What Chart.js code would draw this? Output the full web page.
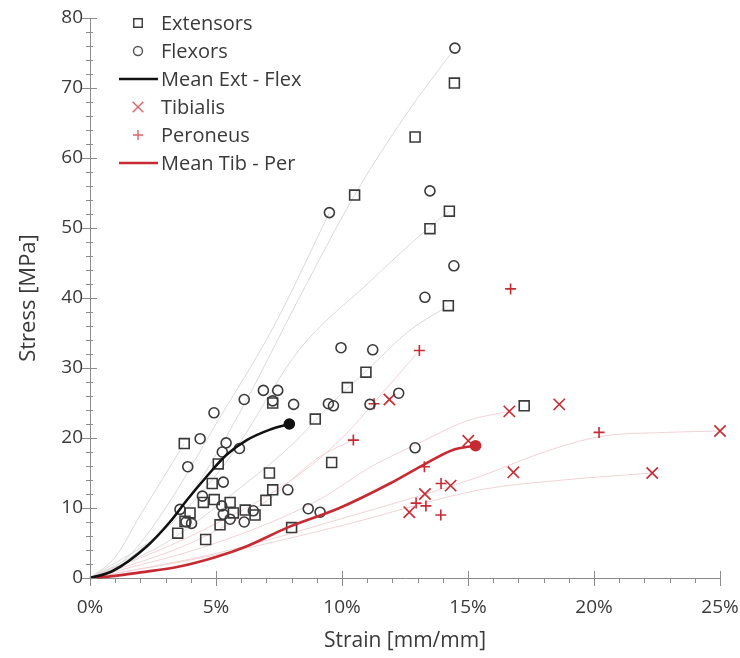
<!DOCTYPE html>
<html>
<head>
<meta charset="utf-8">
<script src="https://cdn.jsdelivr.net/npm/chart.js@4.4.0/dist/chart.umd.min.js"></script>
<style>
  html, body { margin: 0; background: #fff; }
  #wrap { width: 740px; height: 658px; }
</style>
</head>
<body>
<div id="wrap"><canvas id="chart" width="740" height="658"></canvas></div>
<script>
'use strict';

/* ── Data (strain in %, stress in MPa) ─────────────────────── */
const extensors = [
  [3.74, 19.2], [5.09, 16.3], [4.85, 13.5], [4.93, 11.2], [4.5, 10.8], [5.56, 10.8],
  [3.97, 9.3], [3.77, 8.1], [3.48, 6.4], [4.59, 5.5], [5.16, 7.6], [5.69, 9.3],
  [6.16, 9.7], [6.55, 9.0], [6.98, 11.1], [7.25, 12.6], [7.12, 15.0], [7.25, 25.0],
  [8.0, 7.2], [8.94, 22.7], [9.59, 16.5], [10.5, 54.7], [14.26, 52.4], [13.49, 49.9],
  [14.22, 38.9], [10.95, 29.4], [10.21, 27.2], [14.46, 70.7], [12.9, 63.0], [17.23, 24.6]
];
const flexors = [
  [4.92, 23.6], [6.12, 25.5], [6.88, 26.8], [7.45, 26.8], [7.25, 25.3], [8.08, 24.8],
  [4.37, 19.9], [5.4, 19.3], [5.25, 18.0], [5.93, 18.5], [3.88, 15.9], [5.29, 13.7],
  [4.46, 11.7], [3.57, 9.8], [3.81, 8.0], [4.03, 7.8], [5.23, 10.3], [5.29, 9.1],
  [5.56, 8.4], [6.12, 8.0], [6.48, 9.6], [7.85, 12.6], [8.66, 9.9], [9.13, 9.4],
  [9.5, 52.2], [13.49, 55.3], [14.44, 44.6], [13.29, 40.1], [9.96, 32.9], [11.22, 32.6],
  [12.25, 26.4], [11.11, 24.8], [9.46, 24.9], [9.66, 24.6], [14.48, 75.7], [12.9, 18.6]
];
const tibialis = [
  [11.88, 25.5], [16.64, 23.8], [18.62, 24.8], [15.01, 19.6], [14.31, 13.2],
  [16.8, 15.1], [13.29, 12.0], [12.67, 9.4], [25.0, 21.0], [22.31, 15.0]
];
const peroneus = [
  [13.07, 32.5], [11.27, 24.9], [10.45, 19.7], [13.27, 15.9], [13.93, 13.5],
  [12.94, 10.7], [13.33, 10.3], [13.92, 9.0], [16.69, 41.3], [20.2, 20.8]
];
const meanExtFlex = [
  [0, 0], [0.9, 1.0], [2.25, 4.5], [3.17, 8.0], [3.84, 11.1], [4.63, 14.5],
  [5.42, 17.6], [6.22, 19.7], [7.14, 21.2], [7.91, 22.0]
];
const meanTibPer = [
  [0, 0], [1, 0.3], [2, 0.8], [3.5, 1.6], [5, 3.0], [6.2, 4.5], [7.9, 7.3],
  [9.9, 10.0], [11.9, 13.5], [13.2, 16.1], [14.4, 18.3], [15.3, 18.9]
];
// faint individual specimen curves
const specimenGrey = [
  [[0, 0], [1, 3], [2, 9], [3.74, 19.2]],
  [[0, 0], [1.5, 3], [3, 10], [5, 22], [7.3, 36], [9.5, 52.2]],
  [[0, 0], [2, 4], [4, 12], [6, 24], [8.3, 40], [10.5, 54.7], [12.5, 66], [14.48, 75.7]],
  [[0, 0], [3, 7], [5.5, 17], [8.3, 32.6], [11, 42], [13.5, 50.2], [14.26, 52.4]],
  [[0, 0], [3, 5], [6, 13], [8, 19], [9.6, 25], [11, 29.7], [12.7, 35.4], [14.22, 38.9]]
];
const specimenPink = [
  [[0, 0], [4, 6], [8, 14], [10, 20], [11.5, 26], [13.07, 32.5]],
  [[0, 0], [5, 5], [9, 11], [11.2, 16], [12.9, 19], [15, 22.5], [16.64, 23.8]],
  [[0, 0], [4, 5], [7, 11], [9.1, 17.3], [10.45, 19.7]],
  [[0, 0], [5, 3.5], [10, 8.5], [15.48, 14.5], [17.86, 17.8], [20.24, 20.2], [22.88, 20.8], [25, 21.0]],
  [[0, 0], [5, 3.3], [10, 7.5], [15.48, 12.6], [18.78, 14.0], [22.31, 15.0]]
];
const X_MAX = 25, Y_MAX = 80;

/* ── Styles ────────────────────────────────────────────────── */
const FONT = '"Open Sans", "DejaVu Sans", sans-serif';
const INK = '#3a3a3a';
const RED = '#c62a32';
const AXIS = '#8c8c8c';

const toXY = arr => arr.map(([x, y]) => ({ x, y }));

function meanSet(label, pts, color) {
  return {
    label, data: toXY(pts), showLine: true, borderColor: color, borderWidth: 2.6,
    backgroundColor: color, pointBorderColor: color, cubicInterpolationMode: 'monotone',
    pointRadius: ctx => (ctx.dataIndex === pts.length - 1 ? 4.5 : 0), clip: false
  };
}
function markerSet(label, pts, style, radius, color) {
  return {
    label, data: toXY(pts), pointStyle: style, pointRadius: radius, pointBorderWidth: 1.6,
    borderColor: color, backgroundColor: 'rgba(0,0,0,0)', showLine: false, clip: false
  };
}
function faintSet(pts, color) {
  return {
    label: '', data: toXY(pts), showLine: true, borderColor: color, borderWidth: 1,
    pointRadius: 0, cubicInterpolationMode: 'monotone'
  };
}

/* ── Legend (drawn inside plot, top-left) ──────────────────── */
const legendItems = [
  { text: 'Extensors', kind: 'point', style: 'rect', radius: 6, color: INK },
  { text: 'Flexors', kind: 'point', style: 'circle', radius: 4.5, color: '#555' },
  { text: 'Mean Ext - Flex', kind: 'line', color: '#111' },
  { text: 'Tibialis', kind: 'point', style: 'crossRot', radius: 7.5, color: '#d9646b' },
  { text: 'Peroneus', kind: 'point', style: 'cross', radius: 5, color: '#d9646b' },
  { text: 'Mean Tib - Per', kind: 'line', color: RED }
];
const insideLegend = {
  id: 'insideLegend',
  afterDatasetsDraw(chart) {
    const { ctx } = chart;
    ctx.save();
    ctx.font = '20px ' + FONT;
    ctx.textBaseline = 'middle';
    legendItems.forEach((it, i) => {
      const y = 23 + i * 28;
      if (it.kind === 'line') {
        ctx.strokeStyle = it.color; ctx.lineWidth = 2.6;
        ctx.beginPath(); ctx.moveTo(119, y); ctx.lineTo(158, y); ctx.stroke();
      } else {
        ctx.strokeStyle = it.color; ctx.fillStyle = 'rgba(0,0,0,0)'; ctx.lineWidth = 1.4;
        Chart.helpers.drawPoint(ctx, { pointStyle: it.style, radius: it.radius, rotation: 0, borderWidth: 1.4 }, 138, y);
      }
      ctx.fillStyle = INK;
      ctx.fillText(it.text, 161, y + 1);
    });
    ctx.restore();
  }
};

/* ── Axis tick marks (major cross the axis, minor short) ──── */
const axisTicks = {
  id: 'axisTicks',
  afterDraw(chart) {
    const { ctx, chartArea: a, scales: { x, y } } = chart;
    ctx.save();
    ctx.strokeStyle = AXIS; ctx.lineWidth = 1;
    ctx.beginPath();
    for (let v = 0; v <= X_MAX; v += 1) {
      const px = Math.round(x.getPixelForValue(v)) + 0.5;
      const major = v % 5 === 0;
      ctx.moveTo(px, a.bottom - (major ? 7 : 0));
      ctx.lineTo(px, a.bottom + (major ? 8 : 5));
    }
    for (let v = 0; v <= Y_MAX; v += 2) {
      const py = Math.round(y.getPixelForValue(v)) + 0.5;
      const major = v % 10 === 0;
      ctx.moveTo(a.left + (major ? 7 : 3), py);
      ctx.lineTo(a.left - (major ? 8 : 4), py);
    }
    ctx.stroke();
    ctx.restore();
  }
};

/* ── Chart ─────────────────────────────────────────────────── */
const datasets = [
  meanSet('Mean Ext - Flex', meanExtFlex, '#111111'),
  meanSet('Mean Tib - Per', meanTibPer, RED),
  markerSet('Extensors', extensors, 'rect', 7, INK),
  markerSet('Flexors', flexors, 'circle', 5, INK),
  markerSet('Tibialis', tibialis, 'crossRot', 8, RED),
  markerSet('Peroneus', peroneus, 'cross', 5.5, RED),
  ...specimenGrey.map(p => faintSet(p, '#dadada')),
  ...specimenPink.map(p => faintSet(p, '#f1d3d6'))
];

new Chart(document.getElementById('chart'), {
  type: 'scatter',
  data: { datasets },
  options: {
    responsive: false,
    animation: false,
    events: [],
    layout: { padding: { top: 18, right: 20, left: 0, bottom: 0 } },
    plugins: { legend: { display: false }, tooltip: { enabled: false } },
    scales: {
      x: {
        type: 'linear', min: 0, max: X_MAX,
        // fixed box; let the last tick label run past the edge like the original
        afterFit: s => { s.height = 80; s.paddingLeft = 0; s.paddingRight = 0; },
        grid: { display: false, drawTicks: false },
        border: { display: true, color: AXIS, width: 1 },
        ticks: { stepSize: 5, padding: 18, color: INK, font: { family: FONT, size: 19 },
          callback: v => v + '%' },
        title: { display: true, text: 'Strain [mm/mm]', color: INK,
          font: { family: FONT, size: 21 }, padding: { top: 0, bottom: 4 } }
      },
      y: {
        type: 'linear', min: 0, max: Y_MAX,
        afterFit: s => { s.width = 90; s.paddingTop = 0; s.paddingBottom = 0; },
        grid: { display: false, drawTicks: false },
        border: { display: true, color: AXIS, width: 1 },
        ticks: { stepSize: 10, padding: 7, color: INK, font: { family: FONT, size: 19 } },
        title: { display: true, text: 'Stress [MPa]', color: INK,
          font: { family: FONT, size: 22 }, padding: { top: 16, bottom: 0 } }
      }
    }
  },
  plugins: [axisTicks, insideLegend]
});
</script>
</body>
</html>
